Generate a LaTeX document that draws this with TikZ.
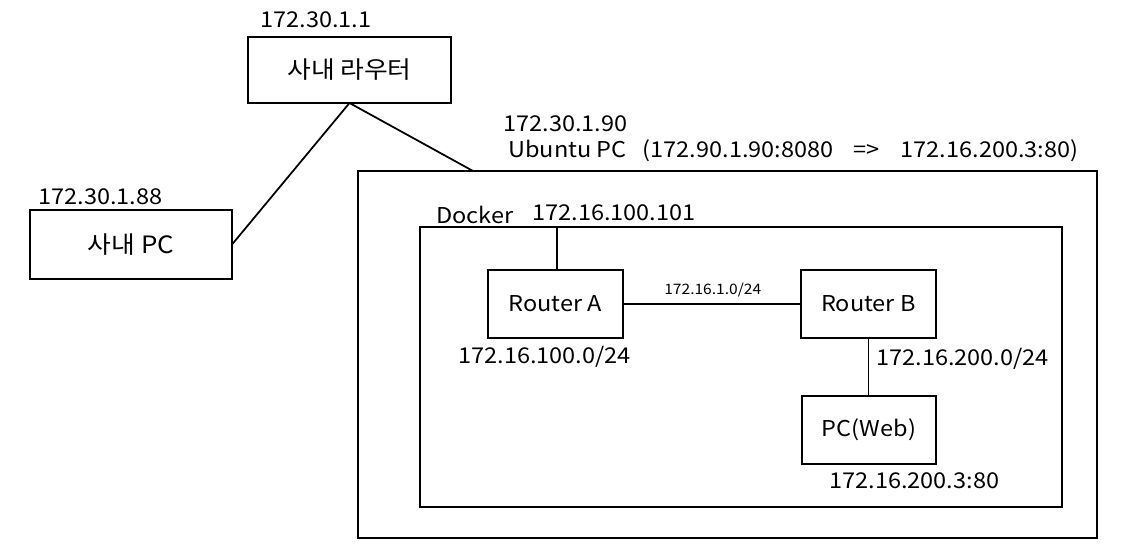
\documentclass[tikz,border=0pt]{standalone}
\usepackage{fontspec}
\setmainfont{Noto Sans CJK KR}[FakeStretch=1.08]
\usetikzlibrary{positioning}

\begin{document}
\begin{tikzpicture}[x=0.02cm,y=-0.02cm]
  % some styles
  \tikzset{
    box/.style={
      draw=black,
      line width=1pt,
      minimum width=#1,
      inner sep=0mm,
      outer sep=0mm,
      text centered,
      font=\fontsize{12.4}{14}\selectfont,
    },
    lbl/.style={anchor=west, inner sep=0mm, font=\fontsize{12.4}{14}\selectfont},
    tiny lbl/.style={anchor=west, inner sep=0mm, font=\fontsize{8.2}{10}\selectfont},
    link/.style={black, line width=1pt},
  }
  \useasboundingbox (0,0) rectangle (1121,557);
  % company network
  \node[box=203*0.02cm, minimum height=66*0.02cm] (router) at (349.5,70) {\fontsize{13.6}{15}\selectfont 사내 라우터};
  \node[box=202*0.02cm, minimum height=69*0.02cm] (pc) at (131,244.5) {\fontsize{13.6}{15}\selectfont 사내\hspace{0.12cm}PC};
  % ubuntu host and docker
  \node[box=739*0.02cm, minimum height=367*0.02cm] (ubuntu) at (727.5,354.5) {};
  \node[box=642*0.02cm, minimum height=280*0.02cm] (docker) at (741,367) {};
  % routers in docker
  \node[box=135*0.02cm, minimum height=68*0.02cm] (ra) at (555.5,304) {Router A};
  \node[box=135*0.02cm, minimum height=68*0.02cm] (rb) at (868.5,304) {Router B};
  \node[box=134*0.02cm, minimum height=68*0.02cm] (web) at (869,430) {PC(Web)};
  % addresses
  \node[lbl] (ip-router) at (260,20) {172.30.1.1};
  \node[lbl] (ip-pc) at (38,197) {172.30.1.88};
  \node[lbl] (ip-ubuntu) at (503,124) {172.30.1.90};
  \node[lbl] (nat) at (508,151) {Ubuntu PC\hspace{0.32cm}(172.90.1.90:8080\hspace{0.4cm}=>\hspace{0.42cm}172.16.200.3:80)};
  \node[lbl] (docker-lbl) at (436,215) {Docker};
  \node[lbl] (ip-gw) at (532,213) {172.16.100.101};
  \node[lbl] (net-a) at (458,357) {172.16.100.0/24};
  \node[tiny lbl] (net-ab) at (664,290) {172.16.1.0/24};
  \node[lbl] (net-b) at (876,359) {172.16.200.0/24};
  \node[lbl] (ip-web) at (829,481) {172.16.200.3:80};
  % links
  \coordinate (up) at (473,171);
  \coordinate (gw) at (557,227);
  \draw[link] (router.south) -- (pc.east);
  \draw[link] (router.south) -- (up);
  \draw[link] (gw) -- (ra.north -| gw);
  \draw[link] (ra.east) -- (rb.west);
  \draw[link] (rb.south) -- (web.north -| rb.south);
\end{tikzpicture}
\end{document}
